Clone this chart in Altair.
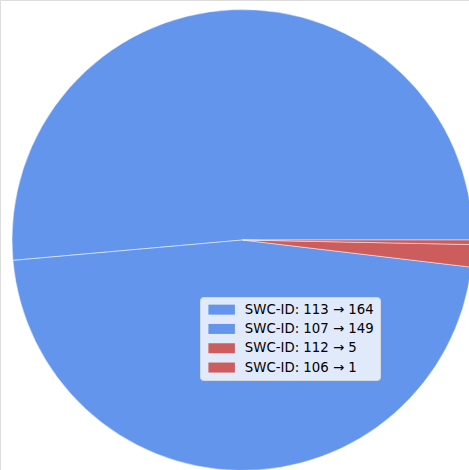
import math
import altair as alt
import pandas as pd

# Slice data: SWC-ID transitions and their counts
labels = ["SWC-ID: 113 → 164", "SWC-ID: 107 → 149", "SWC-ID: 112 → 5", "SWC-ID: 106 → 1"]
counts = [164, 149, 5, 1]
colors = ["#6495ED", "#6495ED", "#CD5C5C", "#CD5C5C"]

df = pd.DataFrame({"label": labels, "count": counts, "idx": list(range(len(labels)))})

# Start at 3 o'clock and run counter-clockwise
theta_scale = alt.Scale(range=[2.5 * math.pi, 0.5 * math.pi])

pie = (
    alt.Chart(df)
    .mark_arc(radius=230.5, stroke="white", strokeWidth=0.6, strokeOpacity=0.8)
    .encode(
        theta=alt.Theta("count:Q", stack=True, scale=theta_scale),
        order=alt.Order("idx:Q"),
        color=alt.Color(
            "label:N",
            scale=alt.Scale(domain=labels, range=colors),
            sort=labels,
            legend=alt.Legend(
                title=None,
                orient="none",
                legendX=200,
                legendY=297,
                symbolType="M-2.65,-1H2.65V1H-2.65Z",
                symbolSize=100,
                symbolOffset=9,
                symbolStrokeWidth=0,
                labelOffset=16.5,
                labelFont="DejaVu Sans",
                labelFontSize=13.3,
                labelColor="#000000",
                labelLimit=400,
                rowPadding=5.3,
                padding=6,
                fillColor="#E0EAFB",
                strokeColor="#D2D9E6",
                cornerRadius=3,
            ),
        ),
        x=alt.value(242.5),
        y=alt.value(240),
    )
)

chart = pie.properties(
    width=469,
    height=470,
    padding=0,
    autosize=alt.AutoSizeParams(type="none"),
).configure_view(stroke=None).configure(background="white")

chart.save("out.html", embed_options={"renderer": "svg", "actions": False})
